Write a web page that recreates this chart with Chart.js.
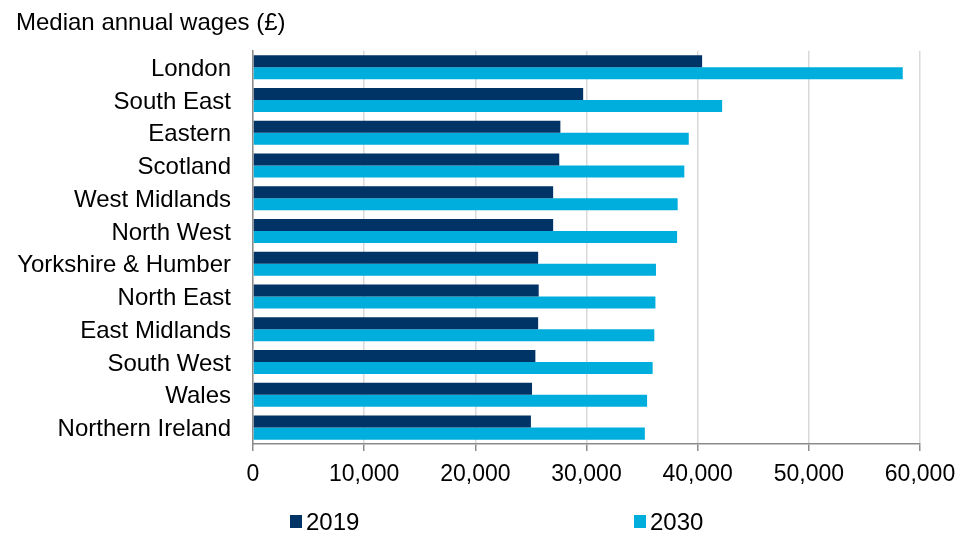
<!DOCTYPE html>
<html>
<head>
<meta charset="utf-8">
<title>Median annual wages by region</title>
<script src="https://cdn.jsdelivr.net/npm/chart.js@4.4.1/dist/chart.umd.min.js"></script>
<style>
  html, body { margin: 0; padding: 0; background: #ffffff; }
  #wrap { width: 966px; height: 535px; }
</style>
</head>
<body>
<div id="wrap"><canvas id="chart" width="966" height="535"></canvas></div>
<script>
// Regions, top to bottom
const regions = [
  'London', 'South East', 'Eastern', 'Scotland', 'West Midlands', 'North West',
  'Yorkshire & Humber', 'North East', 'East Midlands', 'South West', 'Wales',
  'Northern Ireland'
];

// Median annual wages (£)
const wages2019 = [40400, 29700, 27650, 27550, 27000, 27000, 25650, 25700, 25650, 25400, 25100, 25000];
const wages2030 = [58450, 42200, 39200, 38800, 38200, 38150, 36250, 36200, 36100, 35950, 35450, 35250];

const seriesNames = ['2019', '2030'];
const axisTicks = [0, 10000, 20000, 30000, 40000, 50000, 60000];

const FONT = '"Liberation Sans", Arial, Helvetica, sans-serif';
const NAVY = '#003366';
const CYAN = '#00AEDE';

// Legend drawn as a single row under the axis, squares close to their labels
const bottomLegend = {
  id: 'bottomLegend',
  afterDraw(chart) {
    const ctx = chart.ctx;
    const area = chart.chartArea;
    const offsets = [37, 381];   // item start, measured from the plot's left edge
    const yMid = 522;
    ctx.save();
    ctx.font = '24px ' + FONT;
    ctx.textBaseline = 'middle';
    ctx.textAlign = 'left';
    chart.data.datasets.forEach((ds, i) => {
      const x = area.left + offsets[i];
      ctx.fillStyle = ds.backgroundColor;
      ctx.fillRect(x, yMid - 7, 12, 13);
      ctx.fillStyle = '#000000';
      ctx.fillText(ds.label, x + 16, yMid + 1);
    });
    ctx.restore();
  }
};

new Chart(document.getElementById('chart'), {
  type: 'bar',
  data: {
    labels: regions,
    datasets: [
      { label: seriesNames[0], data: wages2019, backgroundColor: NAVY },
      { label: seriesNames[1], data: wages2030, backgroundColor: CYAN }
    ]
  },
  options: {
    indexAxis: 'y',
    responsive: false,
    animation: false,
    devicePixelRatio: 1,
    datasets: {
      bar: { categoryPercentage: 0.733, barPercentage: 1.0, borderWidth: 0 }
    },
    layout: { padding: { left: 16, right: 46, top: 0, bottom: 47 } },
    plugins: {
      legend: { display: false },
      tooltip: { enabled: false },
      title: {
        display: true,
        text: 'Median annual wages (£)',
        align: 'start',
        color: '#000000',
        font: { family: FONT, size: 24, weight: 'normal' },
        padding: { top: 9, bottom: 13 }
      }
    },
    scales: {
      x: {
        type: 'linear',
        min: axisTicks[0],
        max: axisTicks[axisTicks.length - 1],
        afterBuildTicks(scale) {
          scale.ticks = axisTicks.map(v => ({ value: v }));
        },
        afterFit(scale) { scale.height = 44; },
        grid: {
          color: '#d9d9d9',
          lineWidth: 1.5,
          tickColor: '#8c8c8c',
          tickLength: 7,
          drawTicks: true
        },
        border: { display: true, color: '#8c8c8c', width: 1.5 },
        ticks: {
          color: '#000000',
          padding: 10,
          font: { family: FONT, size: 23 },
          callback: v => v.toLocaleString('en-GB')
        }
      },
      y: {
        type: 'category',
        afterFit(scale) { scale.width = 237; },
        grid: { display: false, drawTicks: false },
        border: { display: true, color: '#8c8c8c', width: 1.5 },
        ticks: {
          color: '#000000',
          padding: 22,
          labelOffset: 2,
          autoSkip: false,
          font: { family: FONT, size: 24 }
        }
      }
    }
  },
  plugins: [bottomLegend]
});
</script>
</body>
</html>
